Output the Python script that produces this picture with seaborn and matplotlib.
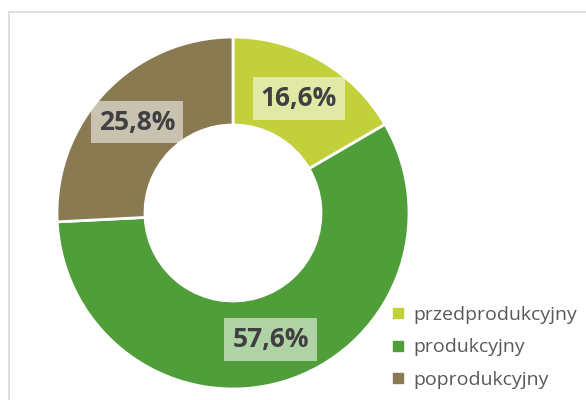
import matplotlib
matplotlib.use("Agg")
import numpy as np
import matplotlib.pyplot as plt
import seaborn as sns
from matplotlib.patches import Rectangle
from matplotlib.lines import Line2D

sns.set_theme(style="white")
plt.rcParams['font.family'] = ['Open Sans', 'DejaVu Sans']

categories = ['przedprodukcyjny', 'produkcyjny', 'poprodukcyjny']
shares = [16.6, 57.6, 25.8]
labels = ['16,6%', '57,6%', '25,8%']
colors = ['#C1D03B', '#4F9E3A', '#8A7A52']

fig = plt.figure(figsize=(5.86, 4.0), dpi=100)

# light frame of the chart area (runs off the right and bottom edges)
fig.patches.append(Rectangle((9 / 586, -0.1), 1.2, 1 - 12 / 400 + 0.1,
                             transform=fig.transFigure, fill=False,
                             edgecolor='#D9D9D9', linewidth=1.2))

ax = fig.add_axes([57 / 586, 11 / 400, 352 / 586, 352 / 400])
wedges, texts = ax.pie(shares, colors=colors, startangle=90, counterclock=False,
                       wedgeprops={'width': 0.5, 'edgecolor': 'white', 'linewidth': 2})
ax.set_xlim(-1, 1)
ax.set_ylim(-1, 1)
ax.set_aspect('equal')

start = 90.0
for val, lab in zip(shares, labels):
    ang = np.deg2rad(start - val * 3.6 / 2)
    start -= val * 3.6
    r = 0.75
    ax.text(r * np.cos(ang), r * np.sin(ang), lab, ha='center', va='center',
            fontsize=19, fontweight='bold', color='#404040',
            bbox=dict(boxstyle='square,pad=0.3', facecolor='white',
                      edgecolor='none', alpha=0.55))

handles = [Line2D([], [], marker='s', linestyle='none', markersize=7,
                  markerfacecolor=c, markeredgecolor=c) for c in colors]
fig.legend(handles, categories, loc='upper left', bbox_to_anchor=(380 / 586, 1 - 296 / 400),
           frameon=False, fontsize=14, labelcolor='#595959', handletextpad=0.4,
           labelspacing=0.75, handlelength=0.8, borderpad=0)

fig.savefig('out.png', dpi=100)
